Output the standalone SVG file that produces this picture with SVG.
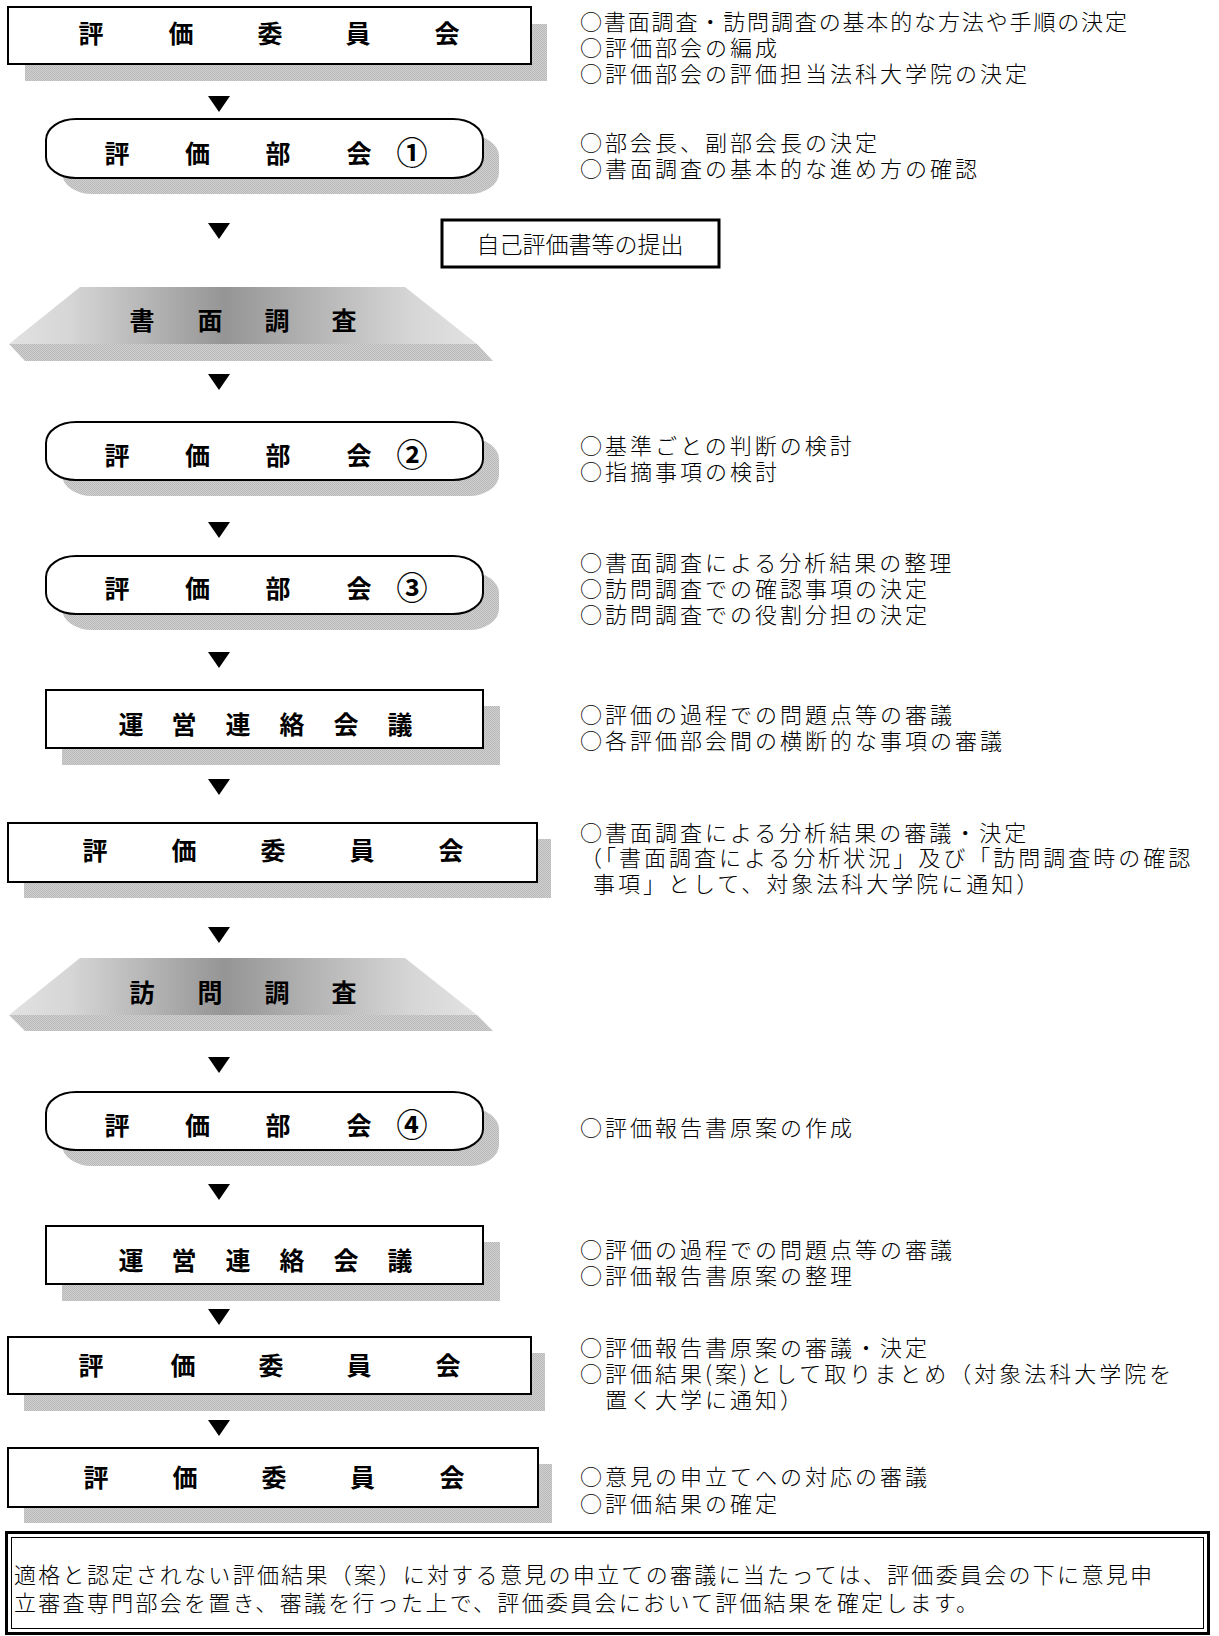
<svg xmlns="http://www.w3.org/2000/svg" width="1219" height="1636" viewBox="0 0 1219 1636">
<defs>
<pattern id="dots" width="2" height="2" patternUnits="userSpaceOnUse">
<rect width="2" height="2" fill="#d0d0d0"/>
<rect width="1" height="1" fill="#b9b9b9"/>
<rect x="1" y="1" width="1" height="1" fill="#b9b9b9"/>
</pattern>
<linearGradient id="trap" gradientUnits="userSpaceOnUse" x1="9" y1="0" x2="477" y2="0">
<stop offset="0" stop-color="#e2e2e2"/>
<stop offset="0.13" stop-color="#d6d6d6"/>
<stop offset="0.46" stop-color="#959595"/>
<stop offset="0.86" stop-color="#d6d6d6"/>
<stop offset="1" stop-color="#e2e2e2"/>
</linearGradient>
</defs>
<style>
.box{fill:#fff;stroke:#000;stroke-width:2}
.shadow{fill:url(#dots)}
.bt{font-family:"Noto Sans CJK JP","Noto Sans CJK SC",sans-serif;font-weight:700;font-size:25px;fill:#000;text-anchor:middle}
.num{font-family:"Noto Sans CJK JP","Noto Sans CJK SC",sans-serif;font-weight:700;font-size:31px;fill:#000;text-anchor:middle}
.note{font-family:"Noto Sans CJK JP","Noto Sans CJK SC",sans-serif;font-weight:300;font-size:22px;letter-spacing:3px;fill:#000}
.arr{fill:#000}
</style>
<rect width="1219" height="1636" fill="#fff"/>

<g id="connectors">
<polygon class="arr" points="208,96 230,96 219,112"/>
<polygon class="arr" points="208,223 230,223 219,239"/>
<polygon class="arr" points="208,374 230,374 219,390"/>
<polygon class="arr" points="208,522 230,522 219,538"/>
<polygon class="arr" points="208,652 230,652 219,668"/>
<polygon class="arr" points="208,779 230,779 219,795"/>
<polygon class="arr" points="208,927 230,927 219,943"/>
<polygon class="arr" points="208,1057 230,1057 219,1073"/>
<polygon class="arr" points="208,1184 230,1184 219,1200"/>
<polygon class="arr" points="208,1309 230,1309 219,1325"/>
<polygon class="arr" points="208,1420 230,1420 219,1436"/>
</g>

<g id="node-iinkai1">
<rect class="shadow" x="25" y="24" width="522" height="57"/>
<rect class="box" x="8" y="7" width="523" height="57"/>
<text class="bt" x="91 181 270 358 447" y="43">評価委員会</text>
</g>
<text class="note" x="580" y="30" textLength="550" lengthAdjust="spacing">○書面調査・訪問調査の基本的な方法や手順の決定</text>
<text class="note" x="580" y="56">○評価部会の編成</text>
<text class="note" x="580" y="82">○評価部会の評価担当法科大学院の決定</text>

<g id="node-bukai1">
<rect class="shadow" x="62" y="135" width="437" height="59" rx="30" ry="21"/>
<rect class="box" x="46" y="119" width="437" height="59" rx="30" ry="21"/>
<text class="bt" x="117 197.5 278 359" y="163">評価部会</text>
<text class="num" x="412" y="164">①</text>
</g>
<text class="note" x="580" y="151">○部会長、副部会長の決定</text>
<text class="note" x="580" y="177">○書面調査の基本的な進め方の確認</text>

<g id="node-jiko">
<rect x="442" y="220" width="277" height="47" fill="#fff" stroke="#000" stroke-width="3"/>
<text x="580" y="253" font-family="Noto Sans CJK JP, sans-serif" font-weight="300" font-size="23" letter-spacing="0" text-anchor="middle">自己評価書等の提出</text>
</g>

<g id="node-shomen">
<polygon class="shadow" points="9,344 477,344 493,361 25,361"/>
<polygon points="80,287 405,287 477,344 9,344" fill="url(#trap)"/>
<text class="bt" x="142 210 277 344" y="330">書面調査</text>
</g>

<g id="node-bukai2">
<rect class="shadow" x="62" y="438" width="437" height="58" rx="30" ry="21"/>
<rect class="box" x="46" y="422" width="437" height="58" rx="30" ry="21"/>
<text class="bt" x="117 197.5 278 359" y="464.5">評価部会</text>
<text class="num" x="412" y="465.5">②</text>
</g>
<text class="note" x="580" y="454">○基準ごとの判断の検討</text>
<text class="note" x="580" y="480">○指摘事項の検討</text>

<g id="node-bukai3">
<rect class="shadow" x="62" y="572" width="437" height="58" rx="30" ry="21"/>
<rect class="box" x="46" y="556" width="437" height="58" rx="30" ry="21"/>
<text class="bt" x="117 197.5 278 359" y="597.5">評価部会</text>
<text class="num" x="412" y="598.5">③</text>
</g>
<text class="note" x="580" y="571">○書面調査による分析結果の整理</text>
<text class="note" x="580" y="597">○訪問調査での確認事項の決定</text>
<text class="note" x="580" y="623">○訪問調査での役割分担の決定</text>

<g id="node-unei1">
<rect class="shadow" x="62" y="706" width="438" height="59"/>
<rect class="box" x="46" y="690" width="437" height="58"/>
<text class="bt" x="131 184 238 292 346 400" y="733.5">運営連絡会議</text>
</g>
<text class="note" x="580" y="723">○評価の過程での問題点等の審議</text>
<text class="note" x="580" y="749">○各評価部会間の横断的な事項の審議</text>

<g id="node-iinkai2">
<rect class="shadow" x="24" y="839" width="527" height="59"/>
<rect class="box" x="8" y="823" width="529" height="59"/>
<text class="bt" x="95 184 273 362 451" y="859.5">評価委員会</text>
</g>
<text class="note" x="580" y="841">○書面調査による分析結果の審議・決定</text>
<text class="note" x="580" y="866">（「書面調査による分析状況」及び「訪問調査時の確認</text>
<text class="note" x="593" y="892">事項」として、対象法科大学院に通知）</text>

<g id="node-homon">
<polygon class="shadow" points="9,1015 477,1015 493,1031 25,1031"/>
<polygon points="80,958 405,958 477,1015 9,1015" fill="url(#trap)"/>
<text class="bt" x="142 210 277 344" y="1001.5">訪問調査</text>
</g>

<g id="node-bukai4">
<rect class="shadow" x="62" y="1108" width="437" height="58" rx="30" ry="21"/>
<rect class="box" x="46" y="1092" width="437" height="58" rx="30" ry="21"/>
<text class="bt" x="117 197.5 278 359" y="1134.5">評価部会</text>
<text class="num" x="412" y="1135.5">④</text>
</g>
<text class="note" x="580" y="1136">○評価報告書原案の作成</text>

<g id="node-unei2">
<rect class="shadow" x="62" y="1242" width="438" height="59"/>
<rect class="box" x="46" y="1226" width="437" height="58"/>
<text class="bt" x="131 184 238 292 346 400" y="1269.5">運営連絡会議</text>
</g>
<text class="note" x="580" y="1258">○評価の過程での問題点等の審議</text>
<text class="note" x="580" y="1284">○評価報告書原案の整理</text>

<g id="node-iinkai3">
<rect class="shadow" x="24" y="1353" width="521" height="58"/>
<rect class="box" x="8" y="1337" width="523" height="57"/>
<text class="bt" x="91 183 271 359 448" y="1374.5">評価委員会</text>
</g>
<text class="note" x="580" y="1356">○評価報告書原案の審議・決定</text>
<text class="note" x="580" y="1382">○評価結果(案)として取りまとめ（対象法科大学院を</text>
<text class="note" x="605" y="1408">置く大学に通知）</text>

<g id="node-iinkai4">
<rect class="shadow" x="24" y="1464" width="528" height="59"/>
<rect class="box" x="8" y="1448" width="530" height="59"/>
<text class="bt" x="96 185 274 362.5 452" y="1486.5">評価委員会</text>
</g>
<text class="note" x="580" y="1485">○意見の申立てへの対応の審議</text>
<text class="note" x="580" y="1512">○評価結果の確定</text>

<g id="node-note">
<rect x="6.5" y="1532.5" width="1202" height="101" fill="#fff" stroke="#000" stroke-width="3"/>
<rect x="11.5" y="1537.5" width="1192" height="91" fill="none" stroke="#000" stroke-width="1"/>
<text class="note" x="14" y="1583" letter-spacing="0" textLength="1141" lengthAdjust="spacing">適格と認定されない評価結果（案）に対する意見の申立ての審議に当たっては、評価委員会の下に意見申</text>
<text class="note" x="14" y="1611" letter-spacing="0" textLength="967" lengthAdjust="spacing">立審査専門部会を置き、審議を行った上で、評価委員会において評価結果を確定します。</text>
</g>
</svg>
